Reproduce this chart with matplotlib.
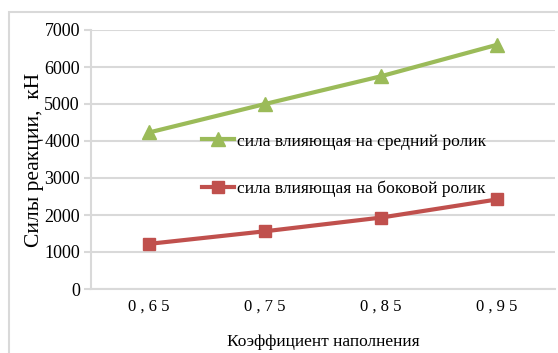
import numpy as np
import matplotlib.pyplot as plt
from matplotlib.patches import Rectangle

plt.rcParams['font.family'] = ['Liberation Serif', 'DejaVu Serif']

# fill factor categories and reaction forces, kN
fill_factor = ["0,65", "0,75", "0,85", "0,95"]
force_middle = [4230, 5000, 5750, 6600]
force_side = [1220, 1560, 1930, 2420]
label_middle = "сила влияющая на средний ролик"
label_side = "сила влияющая на боковой ролик"

green = "#9BBB59"
red = "#C0504D"
grid_col = "#D9D9D9"

W, H = 558, 353
fig = plt.figure(figsize=(W / 100, H / 100), dpi=100)

# outer chart frame (runs off the right and bottom edges)
fig.patches.append(Rectangle((9 / W, -0.1), 1.2, 1 - 12 / H + 0.1,
                             transform=fig.transFigure, fill=False,
                             edgecolor=grid_col, linewidth=1.5))

left, right = 91 / W, 555 / W
bottom, top = 1 - 289 / H, 1 - 30 / H
ax = fig.add_axes([left, bottom, right - left, top - bottom])

x = np.arange(len(fill_factor))
ax.plot(x, force_middle, color=green, linewidth=3, marker="^", markersize=10,
        label=label_middle)
ax.plot(x, force_side, color=red, linewidth=3, marker="s", markersize=9,
        label=label_side)

# spaced-out digits on the category axis
spaced = [s.replace(",", " , ").replace("65", "6 5").replace("75", "7 5")
          .replace("85", "8 5").replace("95", "9 5") for s in fill_factor]

ax.set_xlim(-0.5, len(fill_factor) - 0.5)
ax.set_ylim(0, 7000)
ax.set_yticks(range(0, 7001, 1000))
ax.set_xticks(x)
ax.set_xticklabels(spaced, fontsize=12)
ax.tick_params(axis="x", length=0, pad=7)
ax.tick_params(axis="y", labelsize=13, length=5, color=grid_col, width=1.5, pad=3)

ax.grid(axis="y", color=grid_col, linewidth=1.5)
ax.set_axisbelow(True)
for s in ["top", "right"]:
    ax.spines[s].set_visible(False)
for s in ["left", "bottom"]:
    ax.spines[s].set_color(grid_col)
    ax.spines[s].set_linewidth(1.5)

ax.set_ylabel("Силы реакции,  кН", fontsize=15.5, labelpad=0)
ax.set_xlabel("Коэффициент наполнения", fontsize=12.5, labelpad=14)

leg = ax.legend(loc="upper left", bbox_to_anchor=(0.22, 0.635), frameon=False,
                fontsize=12.6, handlelength=1.85, handletextpad=0.15,
                labelspacing=1.75, borderpad=0)

fig.savefig("out.png", dpi=100)
